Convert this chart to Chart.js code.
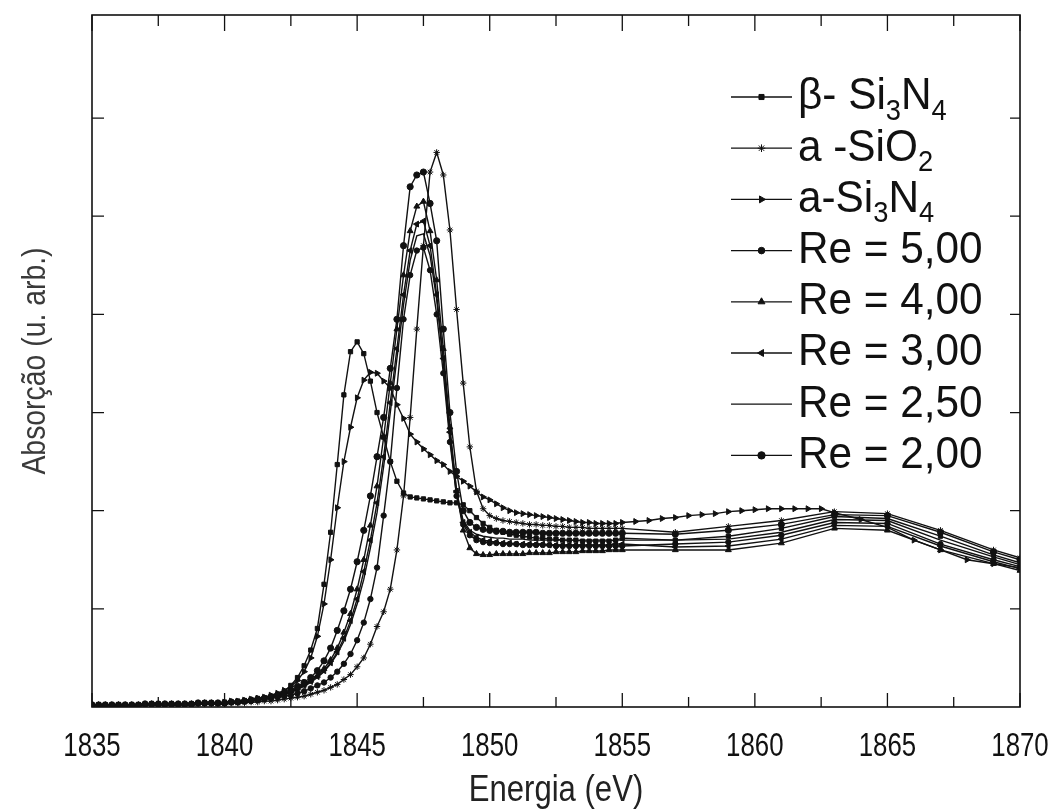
<!DOCTYPE html>
<html>
<head>
<meta charset="utf-8">
<title>Absorção vs Energia</title>
<script src="https://cdn.jsdelivr.net/npm/chart.js@4.4.0/dist/chart.umd.min.js"></script>
<style>
  body { margin: 0; background: #fff; }
  #wrap { width: 1058px; height: 811px; }
</style>
</head>
<body>
<div id="wrap"><canvas id="chart" width="1058" height="811"></canvas></div>
<script>
// energy grid (eV) of the dense part of the scans
const energyFine = [
  1835, 1835.25, 1835.5, 1835.75, 1836, 1836.25, 1836.5, 1836.75,
  1837, 1837.25, 1837.5, 1837.75, 1838, 1838.25, 1838.5, 1838.75,
  1839, 1839.25, 1839.5, 1839.75, 1840, 1840.25, 1840.5, 1840.75,
  1841, 1841.25, 1841.5, 1841.75, 1842, 1842.25, 1842.5, 1842.75,
  1843, 1843.25, 1843.5, 1843.75, 1844, 1844.25, 1844.5, 1844.75,
  1845, 1845.25, 1845.5, 1845.75, 1846, 1846.25, 1846.5, 1846.75,
  1847, 1847.25, 1847.5, 1847.75, 1848, 1848.25, 1848.5, 1848.75,
  1849, 1849.25, 1849.5, 1849.75, 1850, 1850.25, 1850.5, 1850.75,
  1851, 1851.25, 1851.5, 1851.75, 1852, 1852.25, 1852.5, 1852.75,
  1853, 1853.25, 1853.5, 1853.75, 1854, 1854.25, 1854.5, 1854.75,
  1855
];
// coarse points after 1855 eV
const energyTail = [1857, 1859, 1861, 1863, 1865, 1867, 1869, 1870];
const energyTailASiN = [1855.5, 1856, 1856.5, 1857, 1857.5, 1858, 1858.5, 1859, 1859.5, 1860, 1860.5,
  1861, 1861.5, 1862, 1862.5, 1863, 1864, 1865, 1866, 1867, 1868, 1869, 1870];

const betaSi3N4 = [
  0.02, 0.02, 0.02, 0.02, 0.02, 0.02, 0.02, 0.02,
  0.03, 0.03, 0.03, 0.03, 0.03, 0.03, 0.03, 0.03,
  0.04, 0.04, 0.04, 0.04, 0.05, 0.05, 0.06, 0.06,
  0.07, 0.08, 0.09, 0.11, 0.13, 0.16, 0.22, 0.30,
  0.42, 0.58, 0.80, 1.25, 1.78, 2.47, 3.18, 3.62,
  3.72, 3.60, 3.32, 3.00, 2.75, 2.50, 2.30, 2.18,
  2.14, 2.13, 2.12, 2.11, 2.10, 2.09, 2.08, 2.08,
  2.06, 2.00, 1.93, 1.87, 1.83, 1.80, 1.78, 1.76,
  1.75, 1.74, 1.73, 1.72, 1.72, 1.71, 1.71, 1.70,
  1.70, 1.70, 1.69, 1.69, 1.69, 1.69, 1.69, 1.70,
  1.72
];
const betaSi3N4Tail = [1.70, 1.74, 1.82, 1.94, 1.92, 1.74, 1.55, 1.47];

const aSiO2 = [
  0.02, 0.02, 0.02, 0.02, 0.02, 0.02, 0.02, 0.02,
  0.02, 0.02, 0.02, 0.02, 0.02, 0.02, 0.02, 0.02,
  0.03, 0.03, 0.03, 0.03, 0.03, 0.04, 0.04, 0.04,
  0.05, 0.05, 0.06, 0.06, 0.07, 0.08, 0.09, 0.10,
  0.11, 0.13, 0.15, 0.17, 0.20, 0.23, 0.28, 0.33,
  0.41, 0.50, 0.64, 0.82, 0.97, 1.20, 1.60, 2.15,
  2.95, 3.85, 4.70, 5.45, 5.65, 5.42, 4.86, 4.05,
  3.30, 2.65, 2.20, 2.02, 1.95, 1.92, 1.90, 1.89,
  1.88, 1.87, 1.86, 1.86, 1.85, 1.85, 1.84, 1.84,
  1.83, 1.83, 1.83, 1.82, 1.82, 1.82, 1.82, 1.82,
  1.82
];
const aSiO2Tail = [1.78, 1.84, 1.90, 1.99, 1.97, 1.80, 1.60, 1.52];

const aSi3N4 = [
  0.02, 0.02, 0.02, 0.02, 0.02, 0.02, 0.02, 0.02,
  0.03, 0.03, 0.03, 0.03, 0.03, 0.03, 0.03, 0.03,
  0.04, 0.04, 0.04, 0.04, 0.05, 0.06, 0.06, 0.07,
  0.08, 0.09, 0.10, 0.12, 0.14, 0.17, 0.21, 0.27,
  0.36, 0.50, 0.72, 1.05, 1.50, 2.03, 2.50, 2.85,
  3.15, 3.33, 3.41, 3.40, 3.32, 3.25, 3.08, 2.94,
  2.78, 2.70, 2.63, 2.57, 2.51, 2.47, 2.40, 2.35,
  2.30, 2.25, 2.19, 2.14, 2.11, 2.07, 2.03, 2.00,
  1.98, 1.97, 1.96, 1.95, 1.94, 1.93, 1.92, 1.91,
  1.90, 1.89, 1.88, 1.88, 1.87, 1.87, 1.87, 1.87,
  1.88
];
const aSi3N4Tail = [1.89, 1.90, 1.92, 1.93, 1.95, 1.96, 1.97, 1.99, 2.00, 2.01, 2.02,
  2.02, 2.02, 2.02, 2.02, 1.98, 1.91, 1.83, 1.70, 1.60, 1.50, 1.46, 1.42];

const re500 = [
  0.02, 0.02, 0.02, 0.02, 0.02, 0.02, 0.02, 0.02,
  0.03, 0.03, 0.03, 0.03, 0.03, 0.03, 0.03, 0.03,
  0.04, 0.04, 0.04, 0.04, 0.04, 0.05, 0.05, 0.06,
  0.06, 0.07, 0.08, 0.09, 0.10, 0.11, 0.12, 0.14,
  0.16, 0.19, 0.22, 0.25, 0.30, 0.36, 0.44, 0.54,
  0.68, 0.86, 1.10, 1.42, 1.95, 2.50, 3.25, 3.95,
  4.40, 4.65, 4.68, 4.45, 4.00, 3.40, 2.70, 2.15,
  1.86, 1.75, 1.70, 1.68, 1.67, 1.67, 1.66, 1.66,
  1.66, 1.65, 1.65, 1.65, 1.65, 1.65, 1.64, 1.64,
  1.64, 1.64, 1.64, 1.64, 1.64, 1.64, 1.64, 1.64,
  1.64
];
const re500Tail = [1.66, 1.68, 1.75, 1.88, 1.87, 1.66, 1.50, 1.43];

const re400 = [
  0.02, 0.02, 0.02, 0.02, 0.02, 0.02, 0.02, 0.02,
  0.03, 0.03, 0.03, 0.03, 0.03, 0.03, 0.03, 0.03,
  0.04, 0.04, 0.04, 0.04, 0.04, 0.05, 0.05, 0.06,
  0.07, 0.08, 0.09, 0.10, 0.11, 0.13, 0.16, 0.19,
  0.23, 0.27, 0.32, 0.39, 0.48, 0.60, 0.76, 0.95,
  1.20, 1.50, 1.85, 2.25, 2.75, 3.30, 3.85, 4.40,
  4.85, 5.10, 5.15, 4.85, 4.35, 3.65, 2.85, 2.20,
  1.80, 1.62, 1.56, 1.55, 1.55, 1.56, 1.56, 1.56,
  1.56, 1.56, 1.57, 1.57, 1.57, 1.57, 1.58, 1.58,
  1.58, 1.58, 1.59, 1.59, 1.59, 1.59, 1.60, 1.60,
  1.60
];
const re400Tail = [1.60, 1.60, 1.67, 1.82, 1.80, 1.60, 1.46, 1.39];

const re300 = [
  0.02, 0.02, 0.02, 0.02, 0.02, 0.02, 0.02, 0.02,
  0.03, 0.03, 0.03, 0.03, 0.03, 0.03, 0.03, 0.03,
  0.04, 0.04, 0.04, 0.04, 0.04, 0.05, 0.05, 0.06,
  0.07, 0.08, 0.09, 0.10, 0.11, 0.13, 0.15, 0.18,
  0.22, 0.26, 0.31, 0.37, 0.45, 0.56, 0.70, 0.88,
  1.10, 1.38, 1.70, 2.08, 2.55, 3.10, 3.65, 4.20,
  4.65, 4.92, 4.95, 4.70, 4.20, 3.55, 2.80, 2.20,
  1.88, 1.78, 1.73, 1.70, 1.69, 1.68, 1.67, 1.67,
  1.66, 1.66, 1.66, 1.66, 1.66, 1.65, 1.65, 1.65,
  1.65, 1.65, 1.65, 1.65, 1.65, 1.65, 1.65, 1.66,
  1.66
];
const re300Tail = [1.63, 1.64, 1.71, 1.85, 1.84, 1.64, 1.48, 1.41];

const re250 = [
  0.02, 0.02, 0.02, 0.02, 0.02, 0.02, 0.02, 0.02,
  0.03, 0.03, 0.03, 0.03, 0.03, 0.03, 0.03, 0.03,
  0.04, 0.04, 0.04, 0.04, 0.04, 0.05, 0.05, 0.06,
  0.07, 0.08, 0.09, 0.10, 0.11, 0.12, 0.15, 0.18,
  0.21, 0.25, 0.30, 0.36, 0.44, 0.54, 0.67, 0.84,
  1.05, 1.30, 1.62, 1.98, 2.45, 3.00, 3.55, 4.10,
  4.55, 4.80, 4.82, 4.60, 4.15, 3.50, 2.75, 2.15,
  1.90, 1.80, 1.76, 1.74, 1.73, 1.72, 1.72, 1.71,
  1.71, 1.71, 1.70, 1.70, 1.70, 1.70, 1.70, 1.70,
  1.70, 1.70, 1.70, 1.70, 1.70, 1.70, 1.70, 1.70,
  1.70
];
const re250Tail = [1.70, 1.71, 1.78, 1.91, 1.90, 1.70, 1.53, 1.45];

const re200 = [
  0.02, 0.02, 0.02, 0.02, 0.02, 0.02, 0.02, 0.02,
  0.03, 0.03, 0.03, 0.03, 0.03, 0.03, 0.03, 0.03,
  0.04, 0.04, 0.04, 0.04, 0.04, 0.05, 0.05, 0.06,
  0.07, 0.08, 0.09, 0.10, 0.12, 0.14, 0.17, 0.21,
  0.25, 0.30, 0.37, 0.47, 0.60, 0.78, 0.98, 1.20,
  1.48, 1.80, 2.15, 2.55, 2.95, 3.45, 3.95, 4.70,
  5.30, 5.42, 5.45, 5.13, 4.75, 3.85, 3.00, 2.40,
  2.00, 1.88, 1.83, 1.81, 1.80, 1.79, 1.79, 1.78,
  1.78, 1.78, 1.78, 1.78, 1.77, 1.77, 1.77, 1.77,
  1.77, 1.77, 1.77, 1.77, 1.77, 1.77, 1.77, 1.77,
  1.77
];
const re200Tail = [1.76, 1.80, 1.86, 1.96, 1.95, 1.78, 1.58, 1.50];

const xTicks = [1835, 1840, 1845, 1850, 1855, 1860, 1865, 1870];
const xMinorTicks = [1837.5, 1842.5, 1847.5, 1852.5, 1857.5, 1862.5, 1867.5];
const yTicks = [1, 2, 3, 4, 5, 6];

const xTitle = 'Energia (eV)';
const yTitle = 'Absorção (u. arb.)';

// legend labels, [text, isSubscript]
const legendLabels = [
  [['β- Si', 0], ['3', 1], ['N', 0], ['4', 1]],
  [['a -SiO', 0], ['2', 1]],
  [['a-Si', 0], ['3', 1], ['N', 0], ['4', 1]],
  [['Re = 5,00', 0]],
  [['Re = 4,00', 0]],
  [['Re = 3,00', 0]],
  [['Re = 2,50', 0]],
  [['Re = 2,00', 0]]
];

const FONT = "'Liberation Sans', Arial, sans-serif";

function toPoints(xs, ys, xs2, ys2) {
  const pts = xs.map((x, i) => ({ x: x, y: ys[i] }));
  return pts.concat(xs2.map((x, i) => ({ x: x, y: ys2[i] })));
}

function series(data, style, radius, rotation) {
  return {
    data: data,
    borderColor: '#111',
    backgroundColor: '#111',
    borderWidth: 1.4,
    pointStyle: style,
    pointRadius: radius,
    pointRotation: rotation || 0,
    pointBorderWidth: 1,
    tension: 0,
    fill: false
  };
}

// narrow text: the scan uses a condensed face, squeeze the regular one
function narrowText(ctx, text, x, y, size, sx, align, color, angle) {
  ctx.save();
  ctx.translate(x, y);
  if (angle) ctx.rotate(angle);
  ctx.scale(sx, 1);
  ctx.font = size + 'px ' + FONT;
  ctx.textAlign = align;
  ctx.textBaseline = 'middle';
  ctx.fillStyle = color;
  ctx.fillText(text, 0, 0);
  const w = ctx.measureText(text).width * sx;
  ctx.restore();
  return w;
}

const datasets = [
  series(toPoints(energyFine, betaSi3N4, energyTail, betaSi3N4Tail), 'rect', 3),
  series(toPoints(energyFine, aSiO2, energyTail, aSiO2Tail), 'star', 3.2),
  series(toPoints(energyFine, aSi3N4, energyTailASiN, aSi3N4Tail), 'triangle', 3.4, 90),
  series(toPoints(energyFine, re500, energyTail, re500Tail), 'circle', 2.7),
  series(toPoints(energyFine, re400, energyTail, re400Tail), 'triangle', 3.4),
  series(toPoints(energyFine, re300, energyTail, re300Tail), 'triangle', 3.4, -90),
  series(toPoints(energyFine, re250, energyTail, re250Tail), 'circle', 0),
  series(toPoints(energyFine, re200, energyTail, re200Tail), 'circle', 3.1)
];

const framePlugin = {
  id: 'frame',
  afterDatasetsDraw(chart) {
    const ctx = chart.ctx;
    const a = chart.chartArea;
    const xs = chart.scales.x, ys = chart.scales.y;
    ctx.save();
    ctx.strokeStyle = '#111';
    ctx.lineWidth = 1.6;
    ctx.strokeRect(a.left, a.top, a.right - a.left, a.bottom - a.top);
    ctx.lineWidth = 1.3;
    ctx.beginPath();
    xTicks.forEach(v => {
      const px = xs.getPixelForValue(v);
      ctx.moveTo(px, a.bottom); ctx.lineTo(px, a.bottom - 14);
      ctx.moveTo(px, a.top); ctx.lineTo(px, a.top + 16);
    });
    xMinorTicks.forEach(v => {
      const px = xs.getPixelForValue(v);
      ctx.moveTo(px, a.bottom); ctx.lineTo(px, a.bottom - 10);
      ctx.moveTo(px, a.top); ctx.lineTo(px, a.top + 11);
    });
    yTicks.forEach(v => {
      const py = ys.getPixelForValue(v);
      ctx.moveTo(a.left, py); ctx.lineTo(a.left + 12, py);
      ctx.moveTo(a.right, py); ctx.lineTo(a.right - 10, py);
    });
    ctx.stroke();

    // tick labels and axis titles
    xTicks.forEach(v => {
      narrowText(ctx, String(v), xs.getPixelForValue(v), a.bottom + 40, 34, 0.76, 'center', '#111');
    });
    narrowText(ctx, xTitle, (a.left + a.right) / 2, a.bottom + 84, 37, 0.84, 'center', '#222');
    narrowText(ctx, yTitle, 36, (a.top + a.bottom) / 2, 33, 0.86, 'center', '#3a3a3a', -Math.PI / 2);

    // legend
    const lx0 = 731, lx1 = 792, tx = 798;
    legendLabels.forEach((parts, i) => {
      const y = 97 + i * 51.2;
      const ds = chart.data.datasets[i];
      ctx.strokeStyle = '#111';
      ctx.lineWidth = 1.3;
      ctx.beginPath();
      ctx.moveTo(lx0, y); ctx.lineTo(lx1, y);
      ctx.stroke();
      if (ds.pointRadius > 0) {
        ctx.fillStyle = '#111';
        ctx.strokeStyle = '#111';
        ctx.lineWidth = 1;
        Chart.helpers.drawPoint(ctx, {
          pointStyle: ds.pointStyle,
          radius: ds.pointRadius + 0.6,
          rotation: ds.pointRotation,
          borderWidth: 1
        }, (lx0 + lx1) / 2, y);
      }
      let x = tx;
      parts.forEach(p => {
        x += narrowText(ctx, p[0], x, p[1] ? y + 15 : y, p[1] ? 29 : 45, 0.94, 'left', '#111');
      });
    });
    ctx.restore();
  }
};

new Chart(document.getElementById('chart'), {
  type: 'line',
  data: { datasets: datasets },
  plugins: [framePlugin],
  options: {
    responsive: false,
    animation: false,
    events: [],
    layout: { padding: { top: 15, right: 38, left: 0, bottom: 0 } },
    plugins: { legend: { display: false }, tooltip: { enabled: false } },
    scales: {
      x: {
        type: 'linear',
        min: 1835,
        max: 1870,
        afterFit: s => { s.height = 104; },
        grid: { display: false },
        border: { display: false },
        ticks: { display: false }
      },
      y: {
        min: 0,
        max: 7.05,
        afterFit: s => { s.width = 92; },
        grid: { display: false },
        border: { display: false },
        ticks: { display: false }
      }
    }
  }
});
</script>
</body>
</html>
